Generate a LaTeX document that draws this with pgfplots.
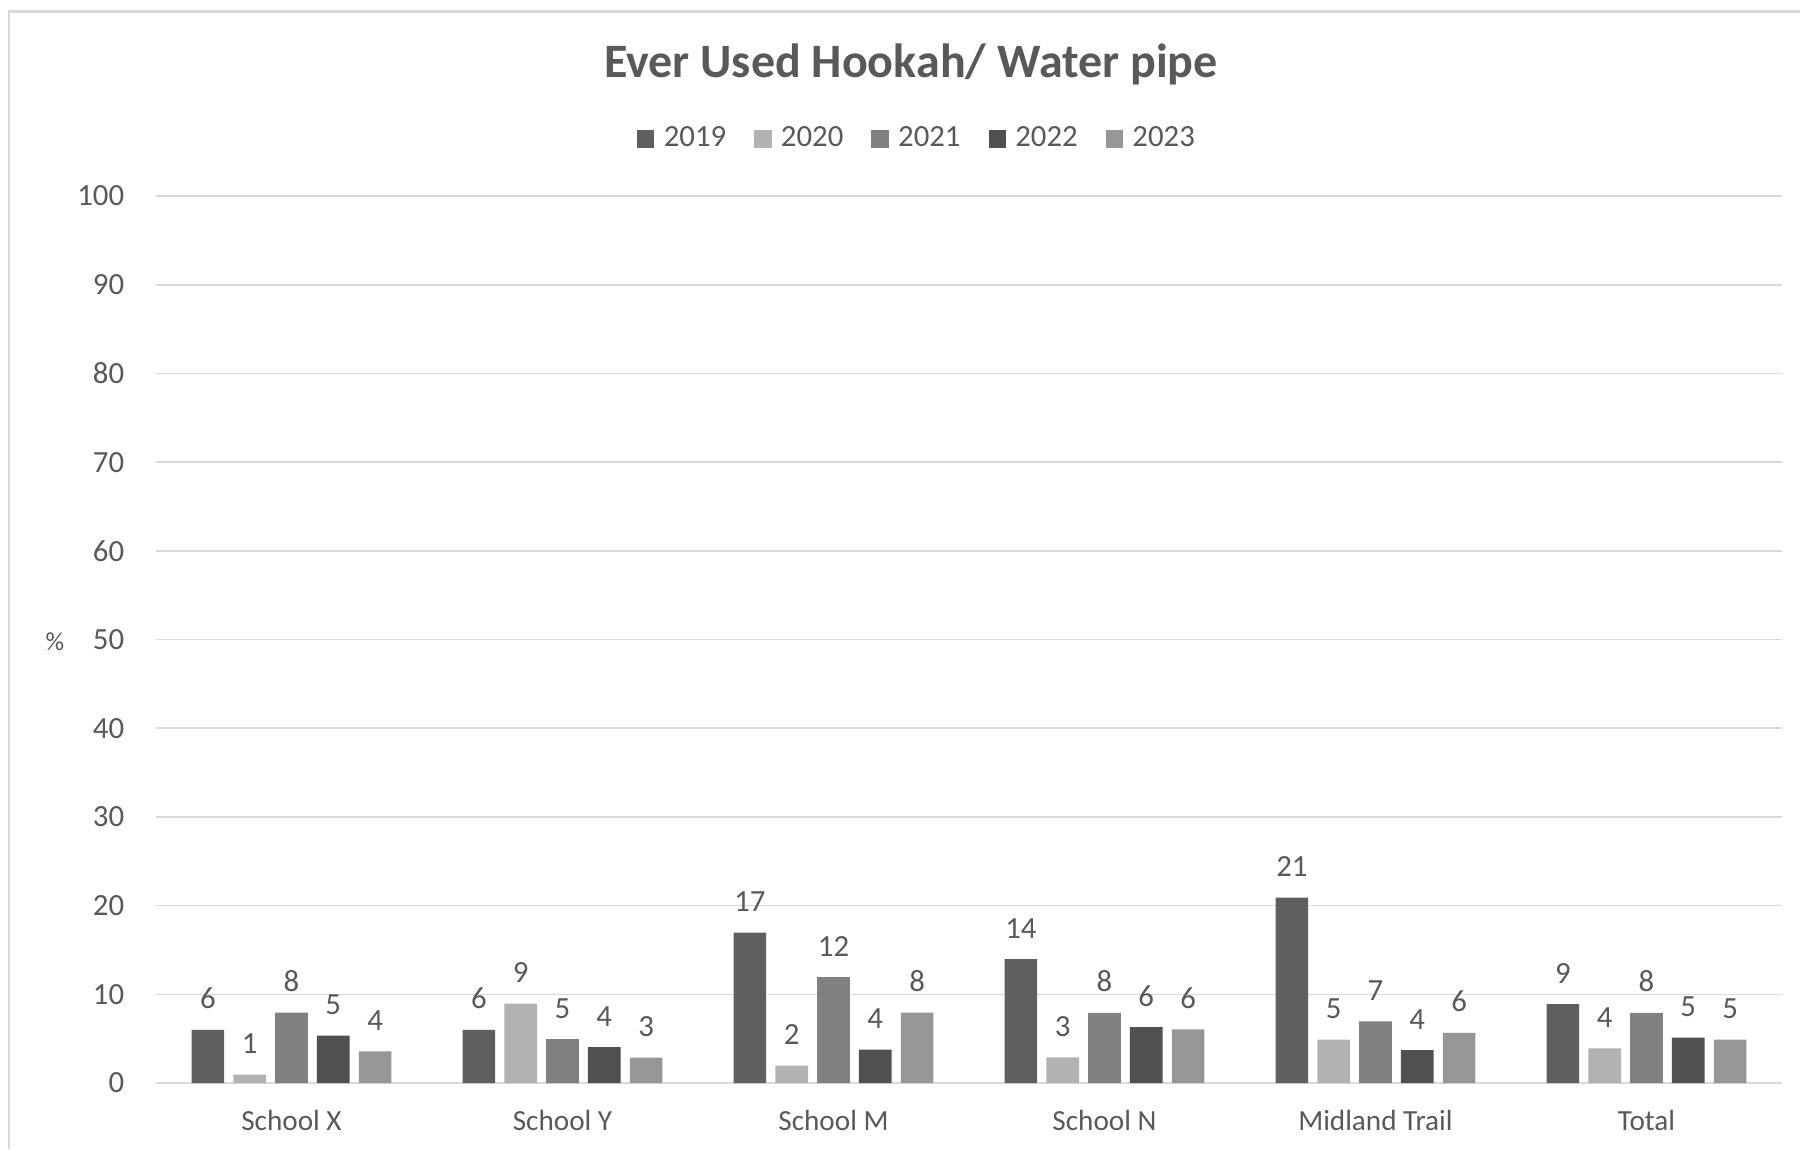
\documentclass[border=0pt]{standalone}
\usepackage{pgfplots}
\pgfplotsset{compat=1.18}
\usepackage{fontspec}
\setmainfont{Carlito}
\definecolor{textgray}{HTML}{595959}
\definecolor{gridgray}{HTML}{D9D9D9}
\definecolor{cA}{RGB}{95,95,95}
\definecolor{cB}{RGB}{178,178,178}
\definecolor{cC}{RGB}{128,128,128}
\definecolor{cD}{RGB}{80,80,80}
\definecolor{cE}{RGB}{150,150,150}
\begin{document}
\begin{tikzpicture}
\useasboundingbox (0pt,0pt) rectangle (450pt,-287.25pt);
\draw[gridgray, line width=0.6pt] (2.2pt,-287.25pt) -- (2.2pt,-2.9pt) -- (450pt,-2.9pt);
\begin{axis}[
  at={(39pt,-270.75pt)}, anchor=south west,
  scale only axis, width=406.5pt, height=221.75pt,
  xmin=-0.5, xmax=5.5, ymin=0, ymax=100,
  ytick={0,10,...,100},
  xtick={0,1,2,3,4,5},
  xticklabels={School X, School Y, School M, School N, Midland Trail, Total},
  major tick length=0pt,
  axis line style={draw=none},
  ymajorgrids, grid style={gridgray, line width=0.4pt},
  /pgf/number format/assume math mode=true,
  yticklabel style={font=\fontsize{7.7}{9}\selectfont, text=textgray, anchor=east, inner sep=0pt, xshift=-7.75pt},
  xticklabel style={font=\fontsize{7.3}{9}\selectfont, text=textgray, anchor=base, inner sep=0pt, yshift=-11.75pt},
  ybar=2.28pt, bar width=8.17pt,
  nodes near coords,
  point meta=y,
  nodes near coords style={font=\fontsize{7.7}{9}\selectfont, text=textgray, anchor=south, inner sep=0pt, yshift=5pt, /pgf/number format/fixed, /pgf/number format/precision=0, /pgf/number format/assume math mode=true},
  legend columns=5,
  legend style={draw=none, fill=none, at={(0.4674,1.064)}, anchor=center,
    font=\fontsize{7.7}{9.2}\selectfont, text=textgray,
    nodes={inner sep=0pt},
    /tikz/every odd column/.append style={column sep=2.33pt},
    /tikz/every even column/.append style={column sep=7pt}},
  clip=false,
]
\addplot[fill=cA, draw=none, legend image code/.code={\fill[cA] (0pt,-2.2pt) rectangle (4.35pt,2.2pt);}] coordinates {(0,6.0) (1,6.0) (2,16.95) (3,13.96) (4,20.9) (5,8.9)};
\addlegendentry{2019}
\addplot[fill=cB, draw=none, legend image code/.code={\fill[cB] (0pt,-2.2pt) rectangle (4.35pt,2.2pt);}] coordinates {(0,0.94) (1,8.95) (2,1.95) (3,2.9) (4,4.9) (5,3.9)};
\addlegendentry{2020}
\addplot[fill=cC, draw=none, legend image code/.code={\fill[cC] (0pt,-2.2pt) rectangle (4.35pt,2.2pt);}] coordinates {(0,7.93) (1,4.96) (2,11.95) (3,7.9) (4,6.94) (5,7.9)};
\addlegendentry{2021}
\addplot[fill=cD, draw=none, legend image code/.code={\fill[cD] (0pt,-2.2pt) rectangle (4.35pt,2.2pt);}] coordinates {(0,5.34) (1,4.06) (2,3.76) (3,6.3) (4,3.7) (5,5.13)};
\addlegendentry{2022}
\addplot[fill=cE, draw=none, legend image code/.code={\fill[cE] (0pt,-2.2pt) rectangle (4.35pt,2.2pt);}] coordinates {(0,3.57) (1,2.86) (2,7.93) (3,6.04) (4,5.66) (5,4.9)};
\addlegendentry{2023}
\end{axis}
\node[font=\bfseries\fontsize{12}{14}\selectfont, text=textgray] at (227.75pt,-16pt) {Ever Used Hookah/ Water pipe};
\node[font=\fontsize{6.5}{8}\selectfont, text=textgray] at (13.75pt,-160.5pt) {\%};
\end{tikzpicture}
\end{document}
